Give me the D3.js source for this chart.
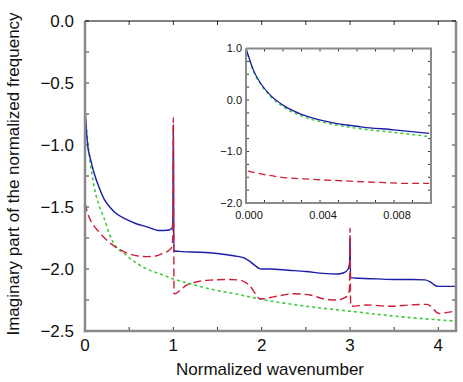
<!DOCTYPE html>
<html><head><meta charset="utf-8">
<script src="https://cdn.jsdelivr.net/npm/d3@7/dist/d3.min.js"></script>
<style>body{margin:0;background:#fff}svg{display:block;font-family:"Liberation Sans",Arial,sans-serif}</style>
</head><body>
<svg id="c" width="463" height="382"></svg>
<script>
// ---- main plot data ----
const blueX = [0,0.01,0.02,0.03,0.037,0.05,0.075,0.1,0.17,0.22,0.28,0.35,0.47,0.58,0.70,0.85,0.95,0.985,0.995,1.0,1.003,1.006,1.02,1.1,1.3,1.5,1.7,1.8,1.87,1.93,1.97,2.0,2.1,2.3,2.5,2.7,2.85,2.93,2.98,2.995,3.0,3.003,3.006,3.1,3.3,3.5,3.7,3.85,3.92,3.97,4.0,4.2];
const blueY = [-0.70,-0.80,-0.92,-1.0,-1.04,-1.08,-1.15,-1.22,-1.36,-1.44,-1.50,-1.55,-1.60,-1.635,-1.66,-1.69,-1.685,-1.67,-1.62,-0.84,-1.40,-1.86,-1.855,-1.86,-1.865,-1.875,-1.895,-1.91,-1.94,-1.975,-1.995,-2.0,-2.0,-2.01,-2.02,-2.035,-2.04,-2.03,-2.0,-1.95,-1.75,-1.9,-2.07,-2.075,-2.08,-2.085,-2.085,-2.088,-2.11,-2.135,-2.14,-2.14];

const redX = [0,0.03,0.057,0.1,0.17,0.25,0.32,0.47,0.6,0.7,0.8,0.89,0.95,0.985,0.995,1.0,1.004,1.008,1.02,1.08,1.15,1.23,1.41,1.64,1.75,1.82,1.87,1.93,1.98,2.02,2.1,2.17,2.36,2.55,2.7,2.85,2.93,2.98,2.995,3.0,3.004,3.008,3.02,3.19,3.45,3.68,3.87,3.93,3.98,4.02,4.1,4.2];
const redY = [-1.47,-1.55,-1.60,-1.65,-1.71,-1.77,-1.81,-1.87,-1.895,-1.90,-1.895,-1.87,-1.85,-1.82,-1.70,-0.78,-1.6,-2.2,-2.2,-2.17,-2.13,-2.11,-2.09,-2.085,-2.09,-2.11,-2.14,-2.2,-2.24,-2.24,-2.23,-2.22,-2.20,-2.21,-2.24,-2.25,-2.235,-2.21,-2.15,-1.67,-2.1,-2.30,-2.30,-2.29,-2.30,-2.29,-2.285,-2.31,-2.35,-2.36,-2.35,-2.34];

const greenX = [0,0.02,0.037,0.075,0.11,0.16,0.21,0.3,0.47,0.7,0.85,1.0,1.2,1.41,1.7,2.0,2.5,3.0,3.5,4.0,4.2];
const greenY = [-0.78,-0.90,-1.01,-1.22,-1.36,-1.49,-1.58,-1.76,-1.89,-2.0,-2.04,-2.08,-2.12,-2.16,-2.20,-2.245,-2.30,-2.34,-2.38,-2.41,-2.42];

const xTickLabels = [0,1,2,3,4];
const yTickLabels = [0,-0.5,-1,-1.5,-2,-2.5];

// ---- inset data ----
const insetX = [0,0.0002,0.0004,0.0008,0.0013,0.002,0.003,0.0044,0.0062,0.008,0.0099];
const insetBlue = [1.0,0.78,0.58,0.32,0.10,-0.10,-0.28,-0.42,-0.52,-0.58,-0.65];
const insetGreen = [1.0,0.77,0.56,0.30,0.08,-0.13,-0.31,-0.45,-0.56,-0.63,-0.71];
const insetRedX = [0.0001,0.0017,0.0035,0.0053,0.0071,0.0089,0.0099];
const insetRed = [-1.38,-1.49,-1.54,-1.57,-1.60,-1.62,-1.62];
const insetXTickLabels = [0,0.004,0.008];
const insetYTickLabels = [1,0,-1,-2];

const cBlue = "#1c1caa", cRed = "#cc1f3a", cGreen = "#3ccc3c", axisGray = "#8a8a8a";

const svg = d3.select("#c");
const zip = (xs, ys) => xs.map((x, i) => [x, ys[i]]);

function panel(g, x, y, opts) {
  const [x0, x1] = x.range(), [y0, y1] = y.range(); // y0 bottom, y1 top
  g.append("rect").attr("x", x0).attr("y", y1).attr("width", x1 - x0).attr("height", y0 - y1).attr("fill", "#fff");
  const clipId = opts.id + "clip";
  g.append("clipPath").attr("id", clipId).append("rect")
    .attr("x", x0).attr("y", y1 - 2).attr("width", x1 - x0).attr("height", y0 - y1 + 2);
  const line = d3.line().x(d => x(d[0])).y(d => y(d[1])).curve(d3.curveMonotoneX);
  const lines = g.append("g").attr("clip-path", `url(#${clipId})`);
  opts.series.forEach(s => {
    lines.append("path").attr("d", line(s.data)).attr("fill", "none")
      .attr("stroke", s.color).attr("stroke-width", s.w)
      .attr("stroke-dasharray", s.dash || null);
  });
  const tl = opts.tickLen;
  const tg = g.append("g").attr("stroke", "#333").attr("stroke-width", 1);
  opts.xTicks.forEach(v => {
    tg.append("line").attr("x1", x(v)).attr("x2", x(v)).attr("y1", y0).attr("y2", y0 - tl);
    tg.append("line").attr("x1", x(v)).attr("x2", x(v)).attr("y1", y1).attr("y2", y1 + tl);
  });
  opts.yTicks.forEach(v => {
    tg.append("line").attr("x1", x0).attr("x2", x0 + tl).attr("y1", y(v)).attr("y2", y(v));
    tg.append("line").attr("x1", x1).attr("x2", x1 - tl).attr("y1", y(v)).attr("y2", y(v));
  });
  const fw = opts.frameW;
  g.append("line").attr("x1", x0).attr("x2", x0).attr("y1", y1).attr("y2", y0 + fw / 2).attr("stroke", axisGray).attr("stroke-width", fw);
  g.append("line").attr("x1", x0 - fw / 2).attr("x2", x1 + fw / 2).attr("y1", y0).attr("y2", y0).attr("stroke", axisGray).attr("stroke-width", fw);
  g.append("line").attr("x1", x1).attr("x2", x1).attr("y1", y1).attr("y2", y0).attr("stroke", axisGray).attr("stroke-width", fw);
  g.append("line").attr("x1", x0).attr("x2", x1 + (opts.topBlack ? 0 : fw / 2)).attr("y1", y1).attr("y2", y1)
    .attr("stroke", opts.topBlack ? "#000" : axisGray).attr("stroke-width", opts.topBlack ? 1 : fw);
  g.append("g").selectAll("text").data(opts.xLabels).join("text")
    .attr("x", d => x(d) + (opts.xLabelShift || 0)).attr("y", y0 + opts.xLabelDy).attr("text-anchor", "middle")
    .attr("font-size", opts.fs).attr("fill", "#111").text(opts.xFmt);
  g.append("g").selectAll("text").data(opts.yLabels).join("text")
    .attr("x", x0 - opts.yLabelDx).attr("y", d => y(d)).attr("dy", "0.35em").attr("text-anchor", "end")
    .attr("font-size", opts.fs).attr("fill", "#111").text(opts.yFmt);
}

// main
const x = d3.scaleLinear().domain([0, 4.2]).range([85, 456]);
const y = d3.scaleLinear().domain([-2.5, 0]).range([331, 21]);
const fmtMinus = f => d => f(d).replace("-", "\u2212");
panel(svg.append("g"), x, y, {
  id: "main",
  series: [
    {data: zip(greenX, greenY), color: cGreen, w: 1.6, dash: "3,3"},
    {data: zip(blueX, blueY), color: cBlue, w: 1.4},
    {data: zip(redX, redY), color: cRed, w: 1.4, dash: "8,4"}
  ],
  tickLen: 4, frameW: 2.5, topBlack: true,
  xTicks: d3.range(0, 4.21, 0.5), yTicks: d3.range(-2.5, 0.001, 0.25),
  xLabels: xTickLabels, yLabels: yTickLabels,
  xLabelDy: 20, yLabelDx: 11, fs: 17,
  xFmt: d => d3.format("d")(d), yFmt: fmtMinus(d3.format(".1f"))
});
svg.append("text").attr("x", 270).attr("y", 375).attr("text-anchor", "middle")
  .attr("font-size", 17).attr("fill", "#111").text("Normalized wavenumber");
svg.append("text").attr("transform", "translate(19,174) rotate(-90)").attr("text-anchor", "middle")
  .attr("font-size", 17).attr("fill", "#111").text("Imaginary part of the normalized frequency");

// inset
const xi = d3.scaleLinear().domain([0, 0.01]).range([246, 431]);
const yi = d3.scaleLinear().domain([-2, 1]).range([203, 48.5]);
panel(svg.append("g"), xi, yi, {
  id: "inset",
  series: [
    {data: zip(insetX, insetGreen), color: cGreen, w: 1.5, dash: "3,3"},
    {data: zip(insetX, insetBlue), color: cBlue, w: 1.3},
    {data: zip(insetRedX, insetRed), color: cRed, w: 1.3, dash: "7,4"}
  ],
  tickLen: 3, frameW: 2, topBlack: false,
  xTicks: d3.range(0, 0.01001, 0.001), yTicks: d3.range(-2, 1.001, 0.25),
  xLabels: insetXTickLabels, yLabels: insetYTickLabels,
  xLabelDy: 16, xLabelShift: 3, yLabelDx: 4, fs: 11,
  xFmt: d => d3.format(".3f")(d), yFmt: fmtMinus(d3.format(".1f"))
});
</script>
</body></html>
